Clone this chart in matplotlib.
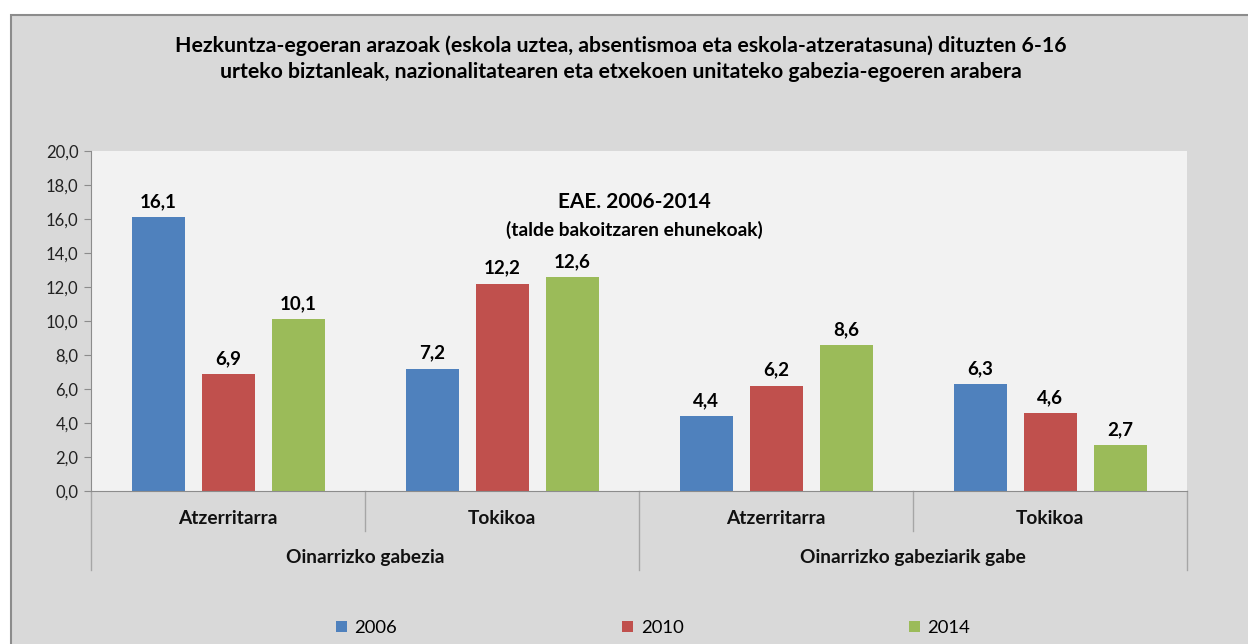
import numpy as np
import matplotlib.pyplot as plt
from matplotlib.patches import Rectangle
from matplotlib.transforms import blended_transform_factory

plt.rcParams['font.family'] = ['Lato', 'DejaVu Sans']

# data
groups = ["Oinarrizko gabezia", "Oinarrizko gabeziarik gabe"]
categories = ["Atzerritarra", "Tokikoa", "Atzerritarra", "Tokikoa"]
years = ["2006", "2010", "2014"]
v2006 = [16.1, 7.2, 4.4, 6.3]
v2010 = [6.9, 12.2, 6.2, 4.6]
v2014 = [10.1, 12.6, 8.6, 2.7]
yticks = np.arange(0, 20.1, 2)

colors = ["#4f81bd", "#c0504d", "#9bbb59"]
W, H = 1248, 644

fig = plt.figure(figsize=(W / 100, H / 100), dpi=100)
fig.patch.set_facecolor("white")
# gray chart box with border (runs off the right/bottom edge like in the screenshot)
fig.add_artist(Rectangle((11 / W, -0.05), 1.1, (H - 15) / H + 0.05, transform=fig.transFigure,
                         facecolor="#d9d9d9", edgecolor="#8c8c8c", linewidth=1.5, zorder=0))

ax = fig.add_axes([91 / W, (H - 491) / H, (1187 - 91) / W, (491 - 151) / H])
ax.set_facecolor("#f2f2f2")

x = np.arange(len(categories)) + 0.5
offs = [-70 / 274, 0, 70 / 274]
bw = 53 / 274
for vals, off, c, yr in zip([v2006, v2010, v2014], offs, colors, years):
    bars = ax.bar(x + off, vals, bw, color=c, label=yr, zorder=2)
    for b, v in zip(bars, vals):
        ax.annotate(f"{v:.1f}".replace(".", ","), (b.get_x() + b.get_width() / 2, v),
                    xytext=(0, 5), textcoords="offset points", ha="center", va="bottom",
                    fontsize=13.5, fontweight="bold", color="black")

ax.set_xlim(0, 4)
ax.set_ylim(0, 20)
ax.set_yticks(yticks)
ax.set_yticklabels([f"{t:.1f}".replace(".", ",") for t in yticks], fontsize=12, color="#222222")
ax.tick_params(axis="y", direction="out", length=5, color="#8c8c8c", pad=4)
ax.set_xticks([])
for s in ["top", "right"]:
    ax.spines[s].set_visible(False)
ax.spines["left"].set_color("#8c8c8c")
ax.spines["bottom"].set_color("#8c8c8c")

# two-level category axis
tr = blended_transform_factory(ax.transData, ax.transAxes)
h = 491 - 151
for i, cat in enumerate(categories):
    ax.text(x[i], -(518 - 491) / h, cat, transform=tr, ha="center", va="center",
            fontsize=13.8, fontweight="bold", color="#111111")
for j, g in enumerate(groups):
    ax.text(2 * j + 1, -(557 - 491) / h, g, transform=tr, ha="center", va="center",
            fontsize=13.8, fontweight="bold", color="#111111")
for xs in [1, 3]:
    ax.plot([xs, xs], [0, -(531 - 491) / h], transform=tr, color="#a6a6a6", lw=1, clip_on=False)
for xs in [0, 2, 4]:
    ax.plot([xs, xs], [0, -(570 - 491) / h], transform=tr, color="#a6a6a6", lw=1, clip_on=False)

# inner subtitle
ax.text(634 / W, 1 - 202 / H, "EAE. 2006-2014", transform=fig.transFigure, ha="center", va="center",
        fontsize=15, fontweight="bold")
ax.text(634 / W, 1 - 230 / H, "(talde bakoitzaren ehunekoak)", transform=fig.transFigure,
        ha="center", va="center", fontsize=13.8, fontweight="bold")

fig.text(621 / W, 1 - 59 / H,
         "Hezkuntza-egoeran arazoak (eskola uztea, absentismoa eta eskola-atzeratasuna) dituzten 6-16\n"
         "urteko biztanleak, nazionalitatearen eta etxekoen unitateko gabezia-egoeren arabera",
         ha="center", va="center", fontsize=15.3, fontweight="bold", linespacing=1.4)

fig.legend(loc="center", bbox_to_anchor=(653 / W, 1 - 628 / H), ncol=3, frameon=False,
           fontsize=13.3, handlelength=0.6, handleheight=0.6, handletextpad=0.4, columnspacing=12.2)

fig.savefig("out.png", dpi=100)
